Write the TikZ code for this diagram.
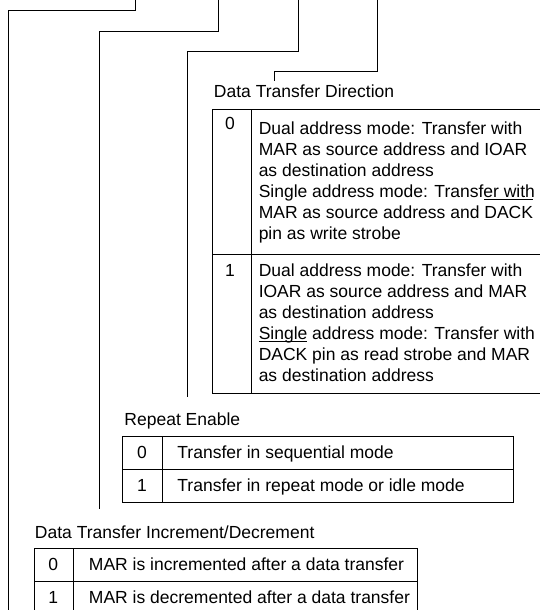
\documentclass[tikz,border=0pt]{standalone}
\usepackage{fontspec}
\setmainfont{Liberation Sans}
\newsavebox\ovlbox
\newcommand\ovl[1]{\sbox\ovlbox{#1}\leavevmode\makebox[0pt][l]{\smash{\rule[18.5pt]{\wd\ovlbox}{0.9pt}}}\usebox\ovlbox}
\begin{document}
\begin{tikzpicture}[x=1pt,y=-1pt,line width=0.9pt,
  every node/.style={font=\fontsize{17.5}{21}\selectfont,inner sep=0pt},
  lbl/.style={anchor=base west},
  dig/.style={anchor=base},
  cell/.style={anchor=base west}]
\useasboundingbox (0,0) rectangle (540,610);

% leader lines
\coordinate (a0) at (135.3,0);   \coordinate (a1) at (8.3,10.3);  \coordinate (a2) at (8.3,610);
\coordinate (b0) at (218.3,0);   \coordinate (b1) at (99.5,31);   \coordinate (b2) at (99.5,508.5);
\coordinate (c0) at (298.2,0);   \coordinate (c1) at (187.5,51.5); \coordinate (c2) at (187.5,397);
\coordinate (d0) at (377.7,0);   \coordinate (d1) at (274.5,71.5); \coordinate (d2) at (274.5,81);
\draw (a0) |- (a1) -- (a2);
\draw (b0) |- (b1) -- (b2);
\draw (c0) |- (c1) -- (c2);
\draw (d0) |- (d1) -- (d2);

% Table 1 : Data Transfer Direction
\node[lbl] (l1) at (213.5,97) {Data Transfer Direction};
\draw (540,109.5) -- (212.7,109.5) -- (212.7,393.3) -- (540,393.3);
\draw (251,109.5) -- (251,393.3);
\draw (212.7,254) -- (540,254);
\node[dig] (t1d0) at (230,129) {0};
\node[cell] (t1c0) at (258.3,134.5) {\parbox[t]{300pt}{Dual address mode: Transfer with\\
MAR as source address and IOAR\\
as destination address\\
Single address mode: Transfer with\\
MAR as source address and \ovl{DACK}\\
pin as write strobe}};
\node[dig] (t1d1) at (230,276.5) {1};
\node[cell] (t1c1) at (258.3,276.5) {\parbox[t]{300pt}{Dual address mode: Transfer with\\
IOAR as source address and MAR\\
as destination address\\
Single address mode: Transfer with\\
\ovl{DACK} pin as read strobe and MAR\\
as destination address}};

% Table 2 : Repeat Enable
\node[lbl] (l2) at (124,425) {Repeat Enable};
\draw (122.8,436) rectangle (513.8,502);
\draw (162,436) -- (162,502);
\draw (122.8,469) -- (513.8,469);
\node[dig] (t2d0) at (142,458.5) {0};
\node[cell] (t2c0) at (177,458.5) {Transfer in sequential mode};
\node[dig] (t2d1) at (142,491.5) {1};
\node[cell] (t2c1) at (177,491.5) {Transfer in repeat mode or idle mode};

% Table 3 : Data Transfer Increment/Decrement
\node[lbl] (l3) at (34.5,538) {Data Transfer Increment/Decrement};
\draw (34,610) -- (34,548) -- (417.4,548) -- (417.4,610);
\draw (73.3,548) -- (73.3,610);
\draw (34,581) -- (417.4,581);
\node[dig] (t3d0) at (53.3,570) {0};
\node[cell] (t3c0) at (88.5,570) {MAR is incremented after a data transfer};
\node[dig] (t3d1) at (53.3,603.3) {1};
\node[cell] (t3c1) at (88.5,603.3) {MAR is decremented after a data transfer};
\end{tikzpicture}
\end{document}
